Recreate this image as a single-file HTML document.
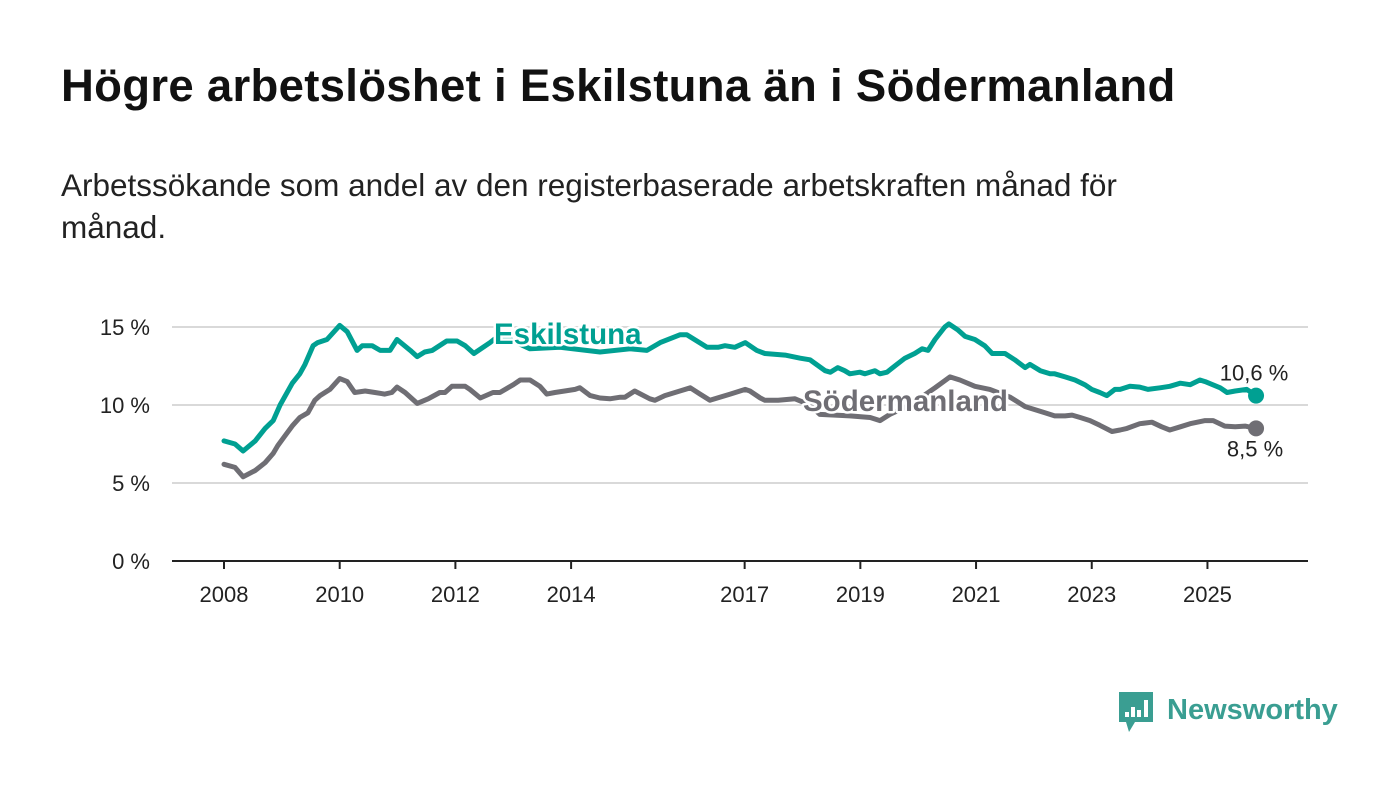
<!DOCTYPE html>
<html><head><meta charset="utf-8"><style>
body{margin:0;background:#fff;font-family:"Liberation Sans","DejaVu Sans",sans-serif;}
#wrap{position:relative;width:1400px;height:794px;overflow:hidden;background:#fff}
h1{position:absolute;left:61px;top:60px;margin:0;font-size:45.5px;font-weight:bold;color:#111;letter-spacing:0.3px;white-space:nowrap}
p.sub{position:absolute;left:61px;top:164px;margin:0;font-size:31.5px;line-height:42px;color:#222;width:1300px}
svg{position:absolute;left:0;top:0}
</style></head><body>
<div id="wrap">
<h1>Högre arbetslöshet i Eskilstuna än i Södermanland</h1>
<p class="sub">Arbetssökande som andel av den registerbaserade arbetskraften månad för<br>månad.</p>
<svg id="chart" width="1400" height="794"></svg>
</div>
<script>
const yTicks=[0,5,10,15];
const yTickLabels=["0 %","5 %","10 %","15 %"];
const xTicks=[2008,2010,2012,2014,2017,2019,2021,2023,2025];
const eskDates=[2008,2008.19,2008.33,2008.54,2008.71,2008.85,2008.97,2009.18,2009.31,2009.40,2009.54,2009.62,2009.78,2010.0,2010.13,2010.30,2010.39,2010.56,2010.70,2010.87,2010.99,2011.22,2011.34,2011.47,2011.60,2011.85,2012.03,2012.17,2012.32,2012.60,2012.77,2013.29,2013.81,2014.50,2015.02,2015.31,2015.54,2015.88,2016.0,2016.35,2016.54,2016.66,2016.83,2017.01,2017.21,2017.35,2017.70,2017.96,2018.13,2018.39,2018.48,2018.61,2018.73,2018.82,2018.99,2019.08,2019.25,2019.34,2019.46,2019.63,2019.77,2019.94,2020.07,2020.17,2020.29,2020.46,2020.53,2020.69,2020.81,2020.98,2021.15,2021.28,2021.41,2021.50,2021.67,2021.85,2021.93,2022.11,2022.28,2022.36,2022.54,2022.71,2022.88,2023.0,2023.14,2023.26,2023.40,2023.49,2023.66,2023.83,2023.97,2024.18,2024.35,2024.53,2024.70,2024.87,2024.96,2025.22,2025.34,2025.48,2025.68,2025.84];
const eskValues=[7.7,7.5,7.05,7.7,8.5,9.0,10.0,11.4,12.0,12.6,13.8,14.0,14.2,15.1,14.7,13.5,13.8,13.8,13.5,13.5,14.2,13.5,13.1,13.4,13.5,14.1,14.1,13.8,13.3,14.0,14.5,13.6,13.7,13.4,13.6,13.5,14.0,14.5,14.5,13.7,13.7,13.8,13.7,14.0,13.5,13.3,13.2,13.0,12.9,12.2,12.1,12.4,12.2,12.0,12.1,12.0,12.2,12.0,12.1,12.6,13.0,13.3,13.6,13.5,14.2,15.0,15.2,14.8,14.4,14.2,13.8,13.3,13.3,13.3,12.9,12.4,12.6,12.2,12.0,12.0,11.8,11.6,11.3,11.0,10.8,10.6,11.0,11.0,11.2,11.15,11.0,11.1,11.2,11.4,11.3,11.6,11.5,11.1,10.8,10.9,11.0,10.6];
const sodDates=[2008,2008.19,2008.33,2008.54,2008.71,2008.85,2008.93,2009.05,2009.19,2009.31,2009.45,2009.57,2009.66,2009.83,2010.0,2010.13,2010.26,2010.44,2010.61,2010.78,2010.90,2010.99,2011.13,2011.34,2011.53,2011.73,2011.82,2011.94,2012.17,2012.25,2012.43,2012.65,2012.77,2013.0,2013.12,2013.29,2013.46,2013.58,2013.72,2013.89,2014.07,2014.15,2014.33,2014.50,2014.67,2014.85,2014.93,2015.10,2015.36,2015.45,2015.62,2015.88,2016.06,2016.23,2016.40,2016.57,2016.75,2017.01,2017.09,2017.27,2017.35,2017.58,2017.87,2018.13,2018.30,2018.82,2019.17,2019.34,2019.51,2019.86,2020.29,2020.55,2020.72,2020.98,2021.24,2021.59,2021.85,2022.19,2022.36,2022.54,2022.66,2022.80,2022.97,2023.14,2023.35,2023.49,2023.61,2023.83,2024.04,2024.21,2024.35,2024.53,2024.70,2024.96,2025.10,2025.30,2025.48,2025.65,2025.84];
const sodValues=[6.2,6.0,5.4,5.8,6.3,6.9,7.4,8.0,8.7,9.2,9.5,10.3,10.6,11.0,11.7,11.5,10.8,10.9,10.8,10.7,10.8,11.15,10.8,10.1,10.4,10.8,10.8,11.2,11.2,11.0,10.45,10.8,10.8,11.3,11.6,11.6,11.2,10.7,10.8,10.9,11.0,11.1,10.6,10.45,10.4,10.5,10.5,10.9,10.4,10.3,10.6,10.9,11.1,10.7,10.3,10.5,10.7,11.0,10.9,10.45,10.3,10.3,10.4,10.0,9.4,9.3,9.2,9.0,9.4,10.0,11.1,11.8,11.6,11.2,11.0,10.5,9.9,9.5,9.3,9.3,9.35,9.2,9.0,8.7,8.3,8.4,8.5,8.8,8.9,8.6,8.4,8.6,8.8,9.0,9.0,8.65,8.6,8.65,8.5];
const eskLast="10,6 %", sodLast="8,5 %";

const NS="http://www.w3.org/2000/svg";
const svg=document.getElementById('chart');
const X=d=>224+(d-2008)*57.85;
const Y=v=>561-v*15.6;
function mk(tag,attrs,parent){const e=document.createElementNS(NS,tag);for(const k in attrs)e.setAttribute(k,attrs[k]);(parent||svg).appendChild(e);return e;}
const TEAL="#00a092", GREY="#6f6e74";
yTicks.forEach((t,i)=>{
  if(t>0){const g=mk('line',{x1:172,x2:1308,y1:Y(t),y2:Y(t),stroke:'#d9d9d9','stroke-width':2});
  
  }
  const l=mk('text',{x:150,y:Y(t)+8,'text-anchor':'end','font-size':22,fill:'#222'});
  l.textContent=yTickLabels[i];
  
  
});
const ax=mk('line',{x1:172,x2:1308,y1:561,y2:561,stroke:'#222','stroke-width':2});


xTicks.forEach(t=>{
  const tk=mk('line',{x1:X(t),x2:X(t),y1:561,y2:569,stroke:'#222','stroke-width':2});
  
  
  const l=mk('text',{x:X(t),y:602,'text-anchor':'middle','font-size':22,fill:'#222'});
  l.textContent=t;
  
  
});
function series(dates,vals,color,name){
  const d=dates.map((t,i)=>(i?'L':'M')+X(t).toFixed(1)+','+Y(vals[i]).toFixed(1)).join('');
  const p=mk('path',{d:d,fill:'none',stroke:color,'stroke-width':5,'stroke-linejoin':'round','stroke-linecap':'round'});
  
  
  const n=dates.length-1;
  const c=mk('circle',{cx:X(dates[n]),cy:Y(vals[n]),r:8,fill:color});
  
  
}
series(sodDates,sodValues,GREY,'sodermanland');
series(eskDates,eskValues,TEAL,'eskilstuna');
function label(txt,x,y,color,name,size,weight,anchor){
  const t=mk('text',{x:x,y:y,fill:color,'font-size':size,'font-weight':weight,'text-anchor':anchor||'start',stroke:'#fff','stroke-width':5,'paint-order':'stroke','stroke-linejoin':'round'});
  t.textContent=txt;
  
  
}
label('Eskilstuna',494,344,TEAL,'eskilstuna-label',29.5,'bold');
label('Södermanland',803,411,GREY,'sodermanland-label',29.5,'bold');
label(eskLast,X(eskDates[eskDates.length-1])-2,Y(eskValues[eskValues.length-1])-15,'#222','eskilstuna-end-value',22,'normal','middle');
label(sodLast,X(sodDates[sodDates.length-1])-1,Y(sodValues[sodValues.length-1])+28,'#222','sodermanland-end-value',22,'normal','middle');
const g=mk('g',{});


mk('path',{d:'M1119,692 h34 v30 h-18 l-6,10 l-3,-10 h-7 z',fill:'#3a9e92'},g);
[[1125,712,5],[1131,707,10],[1137,710,7],[1144,700,17]].forEach(b=>mk('rect',{x:b[0],y:b[1],width:4,height:b[2],fill:'#fff'},g));
const lt=mk('text',{x:1167,y:719,'font-size':29,'font-weight':'bold',fill:'#3a9e92'},g);
lt.textContent='Newsworthy';
</script>
</body></html>
